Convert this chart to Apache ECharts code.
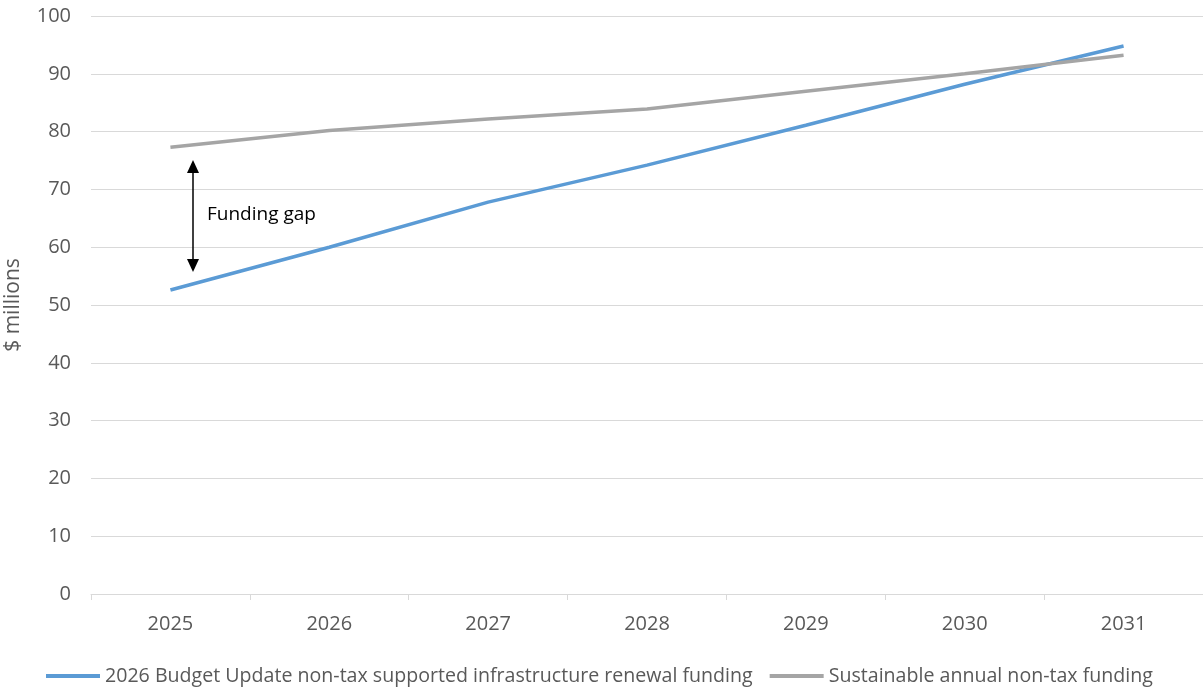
<!DOCTYPE html>
<html style="height: 100%">
<head>
<meta charset="utf-8">
<title>Funding gap</title>
<script src="https://cdn.jsdelivr.net/npm/echarts@6/dist/echarts.min.js"></script>
</head>
<body style="height: 100%; margin: 0; background: #fff">
<div id="container" style="width: 1203px; height: 687px"></div>
<script type="text/javascript">
var years = ['2025', '2026', '2027', '2028', '2029', '2030', '2031'];
var budgetFunding = [52.6, 60.0, 67.8, 74.2, 81.1, 88.2, 94.8];
var sustainableFunding = [77.3, 80.2, 82.2, 83.9, 87.0, 90.0, 93.2];
var seriesNames = [
  '2026 Budget Update non-tax supported infrastructure renewal funding',
  'Sustainable annual non-tax funding'
];

var font = '"Open Sans", "Noto Sans", sans-serif';
var dom = document.getElementById('container');
var myChart = echarts.init(dom);

var option = {
  animation: false,
  textStyle: { fontFamily: font },
  grid: { left: 91, right: 0, top: 16, bottom: 93, containLabel: false, outerBoundsMode: 'none' },
  legend: {
    top: 661,
    left: 41,
    icon: 'rect',
    itemWidth: 54,
    itemHeight: 4,
    itemGap: 17,
    textStyle: { color: '#595959', fontSize: 19.6, fontFamily: font }
  },
  xAxis: {
    type: 'category',
    data: years,
    boundaryGap: true,
    axisLine: { lineStyle: { color: '#d9d9d9' } },
    axisTick: { show: true, length: 6, lineStyle: { color: '#d9d9d9' } },
    axisLabel: { color: '#595959', fontSize: 20, margin: 20 }
  },
  yAxis: {
    type: 'value',
    min: 0,
    max: 100,
    interval: 10,
    name: '$ millions',
    nameLocation: 'middle',
    nameGap: 67,
    nameTextStyle: { color: '#595959', fontSize: 21 },
    axisLine: { show: false },
    axisTick: { show: false },
    axisLabel: { color: '#595959', fontSize: 20, margin: 20 },
    splitLine: { lineStyle: { color: '#d9d9d9' } }
  },
  series: [
    {
      name: seriesNames[0],
      type: 'line',
      data: budgetFunding,
      showSymbol: false,
      color: '#5b9bd5',
      lineStyle: { width: 3.5, color: '#5b9bd5' }
    },
    {
      name: seriesNames[1],
      type: 'line',
      data: sustainableFunding,
      showSymbol: false,
      color: '#a5a5a5',
      lineStyle: { width: 3.5, color: '#a5a5a5' }
    }
  ]
};

myChart.setOption(option);

// annotation: double arrow with label
var arrowX = 193, arrowTop = 160, arrowBot = 272;
myChart.setOption({
  graphic: [
    { type: 'line', shape: { x1: arrowX, y1: arrowTop + 10, x2: arrowX, y2: arrowBot - 10 },
      style: { stroke: '#000', lineWidth: 1.5 } },
    { type: 'polygon', shape: { points: [[arrowX, arrowTop], [arrowX - 6, arrowTop + 13], [arrowX + 6, arrowTop + 13]] },
      style: { fill: '#000' } },
    { type: 'polygon', shape: { points: [[arrowX, arrowBot], [arrowX - 6, arrowBot - 13], [arrowX + 6, arrowBot - 13]] },
      style: { fill: '#000' } },
    { type: 'text', x: 207, y: 205,
      style: { text: 'Funding gap', fill: '#000', font: '19px ' + font } }
  ]
});

window.onresize = function () { myChart.resize(); };
</script>
</body>
</html>
